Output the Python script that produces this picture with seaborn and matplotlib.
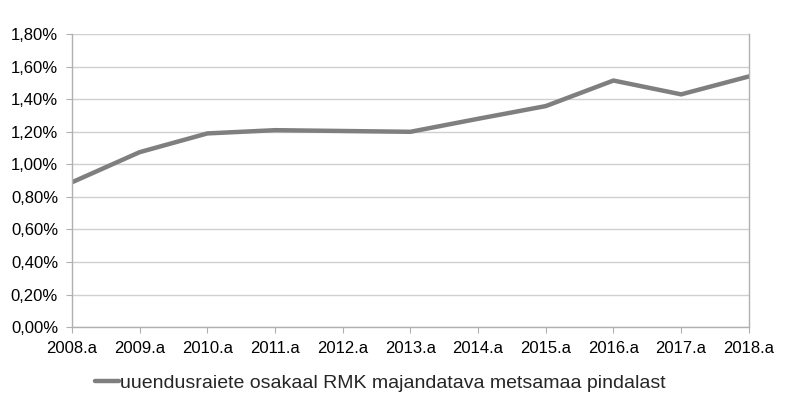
import numpy as np
import pandas as pd
import seaborn as sns
import matplotlib.pyplot as plt
from matplotlib.ticker import FuncFormatter, MultipleLocator

# --- andmed ---
aastad = ["2008.a", "2009.a", "2010.a", "2011.a", "2012.a", "2013.a",
          "2014.a", "2015.a", "2016.a", "2017.a", "2018.a"]
osakaal = [0.0089, 0.01075, 0.0119, 0.0121, 0.01205, 0.0120,
           0.0128, 0.01358, 0.01515, 0.0143, 0.0154]
seeria = "uuendusraiete osakaal RMK majandatava metsamaa pindalast"

df = pd.DataFrame({"Aasta": aastad, "Osakaal": osakaal, "Seeria": seeria})

sns.set_style("white")
plt.rcParams['font.family'] = ['Liberation Sans Narrow', 'Liberation Sans', 'DejaVu Sans']

fig = plt.figure(figsize=(8, 3.97), dpi=100)
ax = fig.add_axes([0.09, 0.176, 0.846, 0.738])

sns.lineplot(data=df, x="Aasta", y="Osakaal", hue="Seeria",
             palette=["#7f7f7f"], linewidth=3.2, ax=ax, sort=False)

ax.set_xlim(0, len(aastad) - 1)
ax.set_ylim(0, 0.018)
ax.yaxis.set_major_locator(MultipleLocator(0.002))
ax.yaxis.set_major_formatter(FuncFormatter(lambda v, p: f"{v*100:.2f}%".replace(".", ",")))
ax.set_xticks(range(len(aastad)))
ax.set_xticklabels(aastad)

ax.grid(True, axis="y", color="#d0d0d0", linewidth=1.0)
ax.set_axisbelow(True)
for side in ["left", "right", "bottom"]:
    ax.spines[side].set_visible(True)
    ax.spines[side].set_color("#b0b0b0")
    ax.spines[side].set_linewidth(1.0)
ax.spines["top"].set_visible(False)

ax.tick_params(axis="both", labelsize=12, colors="#000000", length=4,
               color="#b0b0b0", direction="out", pad=6)
ax.tick_params(axis="x", bottom=True)
ax.tick_params(axis="y", left=True)
ax.set_xlabel("")
ax.set_ylabel("")

ax.legend(loc="center", bbox_to_anchor=(0.456, -0.19), frameon=False,
          fontsize=14, handlelength=1.2, handletextpad=0.1,
          borderpad=0, borderaxespad=0)

fig.savefig("out.png", dpi=100)
